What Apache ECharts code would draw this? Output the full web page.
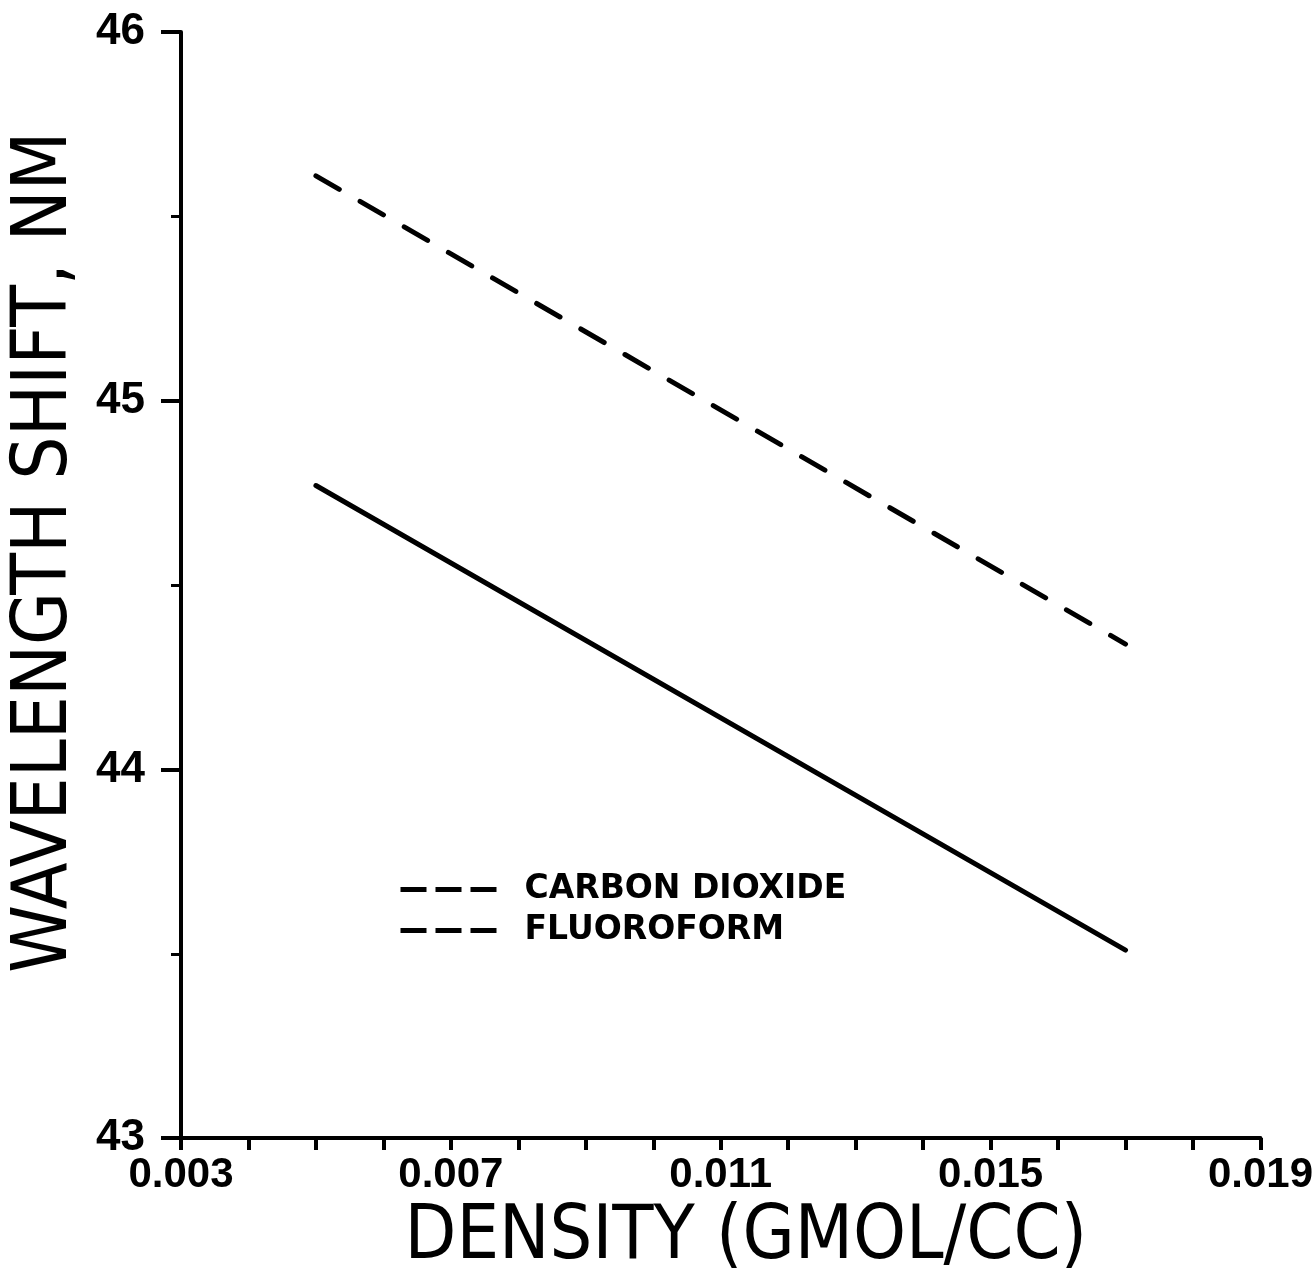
<!DOCTYPE html>
<html>
<head>
<meta charset="utf-8">
<script src="https://cdn.jsdelivr.net/npm/echarts@6/dist/echarts.min.js"></script>
<style>
  html, body { margin: 0; padding: 0; background: #fff; }
  #chart { width: 1316px; height: 1281px; }
</style>
</head>
<body>
<div id="chart"></div>
<script>
// 数据
const co2Density = [0.005, 0.017];
const co2Shift = [45.61, 44.34];
const chf3Density = [0.005, 0.017];
const chf3Shift = [44.77, 43.51];
const xTickLabels = ['0.003', '0.007', '0.011', '0.015', '0.019'];
const yTickLabels = ['43', '44', '45', '46'];

const titleFont = '"DejaVu Sans Condensed", "Liberation Sans Narrow", sans-serif';
const tickFont = '"Liberation Sans", Arial, sans-serif';

const chart = echarts.init(document.getElementById('chart'));

const option = {
  backgroundColor: '#fff',
  animation: false,
  grid: {
    left: 174,
    top: 32,
    right: 54,
    bottom: 139
  },
  legend: {
    orient: 'vertical',
    left: 393,
    top: 868,
    itemWidth: 97,
    itemHeight: 14,
    itemGap: 8,
    itemStyle: {opacity: 0},
    textStyle: {
      color: '#000',
      fontFamily: '"DejaVu Sans", sans-serif',
      fontWeight: 'bold',
      fontSize: 33,
      lineHeight: 32,
      padding: [0, 0, 0, 22]
    },
    data: [
      {name: 'CARBON DIOXIDE', itemStyle: {opacity: 0}, lineStyle: {type: [26, 9], width: 5, cap: 'butt'}},
      {name: 'FLUOROFORM', itemStyle: {opacity: 0}, lineStyle: {type: [26, 9], width: 5, cap: 'butt'}}
    ]
  },
  xAxis: {
    type: 'value',
    min: 0.003,
    max: 0.019,
    interval: 0.001,
    name: 'DENSITY (GMOL/CC)',
    nameLocation: 'middle',
    nameGap: 50,
    nameTextStyle: {
      color: '#000',
      fontFamily: titleFont,
      fontSize: 75,
      padding: [0, 0, 0, 50]
    },
    axisLine: {show: true, lineStyle: {color: '#000', width: 4}},
    axisTick: {show: true, inside: false, length: 12, lineStyle: {color: '#000', width: 4}},
    splitLine: {show: false},
    axisLabel: {
      color: '#000',
      fontFamily: tickFont,
      fontWeight: 'bold',
      fontSize: 42,
      margin: 16,
      formatter: function (v) {
        const s = v.toFixed(3);
        return xTickLabels.indexOf(s) >= 0 ? s : '';
      }
    }
  },
  yAxis: {
    type: 'value',
    min: 43,
    max: 46,
    interval: 1,
    name: 'WAVELENGTH SHIFT, NM',
    nameLocation: 'middle',
    nameRotate: 90,
    nameGap: 97,
    nameTextStyle: {
      color: '#000',
      fontFamily: titleFont,
      fontSize: 76,
      padding: [0, 0, 0, 66]
    },
    axisLine: {show: true, lineStyle: {color: '#000', width: 4}},
    axisTick: {show: true, inside: false, length: 20, lineStyle: {color: '#000', width: 4}},
    minorTick: {show: true, splitNumber: 2, length: 10, lineStyle: {color: '#000', width: 3}},
    splitLine: {show: false},
    axisLabel: {
      color: '#000',
      fontFamily: tickFont,
      fontWeight: 'bold',
      fontSize: 44,
      margin: 36,
      formatter: function (v) {
        const s = String(Math.round(v));
        return yTickLabels.indexOf(s) >= 0 ? s : '';
      }
    }
  },
  series: [
    {
      name: 'CARBON DIOXIDE',
      type: 'line',
      symbol: 'none',
      itemStyle: {color: '#000'},
      data: co2Density.map((d, i) => [d, co2Shift[i]]),
      lineStyle: {color: '#000', width: 5, type: [27, 24], cap: 'round'}
    },
    {
      name: 'FLUOROFORM',
      type: 'line',
      symbol: 'none',
      itemStyle: {color: '#000'},
      data: chf3Density.map((d, i) => [d, chf3Shift[i]]),
      lineStyle: {color: '#000', width: 5, type: 'solid', cap: 'round'}
    }
  ]
};

chart.setOption(option);
</script>
</body>
</html>
